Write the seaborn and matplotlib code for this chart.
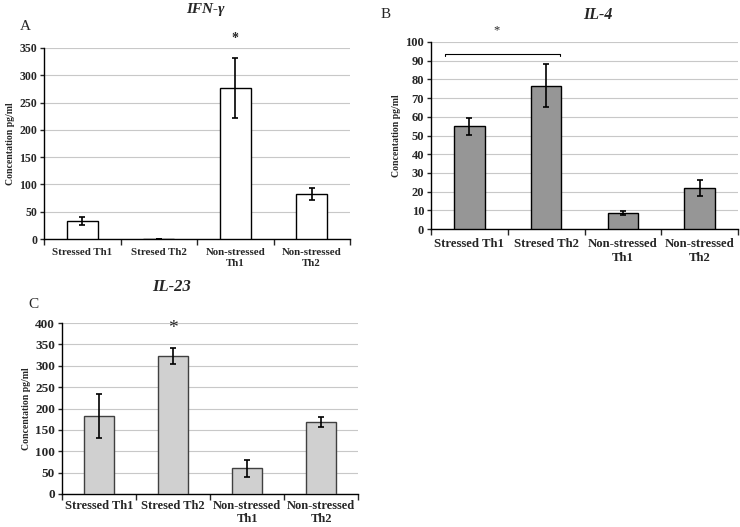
import matplotlib
matplotlib.use("Agg")
import matplotlib.pyplot as plt
import seaborn as sns
import pandas as pd
import numpy as np

sns.set_style("white")
plt.rcParams['font.family'] = ['Liberation Serif', 'DejaVu Serif']

categories = ["Stressed Th1", "Stresed Th2", "Non-stressed\nTh1", "Non-stressed\nTh2"]

ifn_values = [33, 0, 277, 82]
ifn_errors = [8, 0, 55, 11]

il4_values = [55, 76.5, 8.5, 22]
il4_errors = [4.5, 11.5, 1, 4.2]

il23_values = [183, 323, 60, 168]
il23_errors = [52, 18, 20, 12]

W, H = 740, 527
fig = plt.figure(figsize=(W / 100, H / 100), dpi=100)


def px_axes(left, top, right, bottom):
    return fig.add_axes([left / W, (H - bottom) / H, (right - left) / W, (bottom - top) / H])


def panel(ax, values, errors, color, edge, ymax, ystep, tick_fs, xl_fs, xpad, lsp):
    df = pd.DataFrame({"cat": categories, "val": values})
    sns.barplot(data=df, x="cat", y="val", color=color, edgecolor=edge,
                linewidth=1.0, width=0.4, saturation=1, ax=ax, errorbar=None, zorder=3)
    ax.errorbar(np.arange(len(values)), values, yerr=errors, fmt="none",
                ecolor="black", elinewidth=1.2, capsize=2.2, capthick=1.2, zorder=4)
    ax.set_xlim(-0.5, len(values) - 0.5)
    ax.set_ylim(0, ymax)
    ax.set_yticks(np.arange(0, ymax + 0.1, ystep))
    ax.yaxis.grid(True, color="#c8c8c8", linewidth=0.8, zorder=0)
    ax.set_axisbelow(True)
    for s in ["top", "right"]:
        ax.spines[s].set_visible(False)
    for s in ["left", "bottom"]:
        ax.spines[s].set_color("black")
        ax.spines[s].set_linewidth(1.0)
    ax.set_xlabel("")
    ax.set_ylabel("Concentation pg/ml", fontsize=7, fontweight="bold", labelpad=3)
    ax.tick_params(axis="y", direction="out", length=3, width=1, pad=2,
                   labelsize=tick_fs, left=True)
    ax.tick_params(axis="x", which="major", length=0, pad=xpad, labelsize=xl_fs)
    ax.set_xticks(np.arange(-0.5, len(values)), minor=True)
    ax.tick_params(axis="x", which="minor", direction="out", length=4, width=1, bottom=True)
    for lbl in ax.get_xticklabels() + ax.get_yticklabels():
        lbl.set_fontweight("bold")
    for lbl in ax.get_xticklabels():
        lbl.set_linespacing(lsp)


# Panel A
axA = px_axes(44, 48, 350, 239)
panel(axA, ifn_values, ifn_errors, "white", "black", 350, 50, 8.5, 7.8, 6.5, 1.27)
fig.text(205 / W, 1 - 9 / H, "IFN-γ", fontsize=11, fontweight="bold", style="italic",
         ha="center", va="center")
fig.text(25 / W, 1 - 27 / H, "A", fontsize=11, ha="center", va="center")
axA.text(2, 368, "*", fontsize=10, ha="center", va="center", fontweight="bold", clip_on=False)

# Panel B
axB = px_axes(431, 42, 738, 229)
panel(axB, il4_values, il4_errors, "#969696", "black", 100, 10, 9, 9.2, 6.5, 1.27)
fig.text(598 / W, 1 - 15 / H, "IL-4", fontsize=11.5, fontweight="bold", style="italic",
         ha="center", va="center")
fig.text(386 / W, 1 - 14 / H, "B", fontsize=11, ha="center", va="center")
axB.plot([-0.32, -0.32, 1.18, 1.18], [92.3, 93.5, 93.5, 92.3], color="black", lw=0.8,
         clip_on=False, zorder=5)
axB.text(0.35, 106, "*", fontsize=9, ha="center", va="center", clip_on=False)

# Panel C
axC = px_axes(62, 323, 358, 494)
panel(axC, il23_values, il23_errors, "#d0d0d0", "#404040", 400, 50, 9.5, 9.0, 4.5, 1.12)
fig.text(172 / W, 1 - 287 / H, "IL-23", fontsize=12, fontweight="bold", style="italic",
         ha="center", va="center")
fig.text(33 / W, 1 - 305 / H, "C", fontsize=11, ha="center", va="center")
axC.text(1, 386, "*", fontsize=14, ha="center", va="center", clip_on=False)

fig.savefig("out.png", dpi=100)
